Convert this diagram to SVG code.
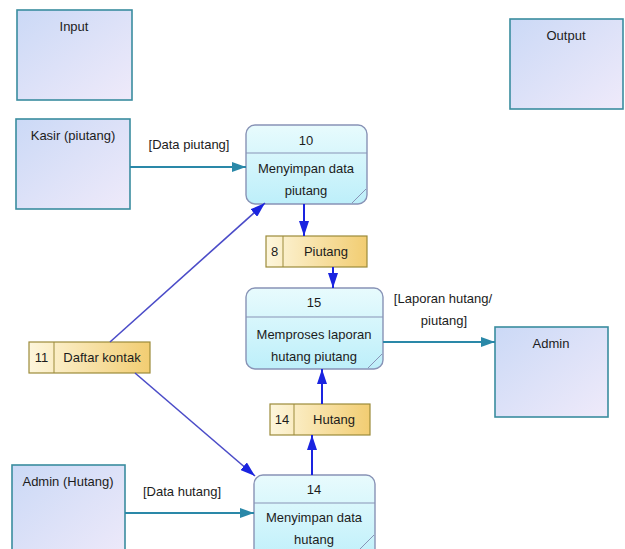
<svg xmlns="http://www.w3.org/2000/svg" width="625" height="549" viewBox="0 0 625 549">
  <defs>
    <linearGradient id="gEntity" x1="0" y1="0" x2="1" y2="1">
      <stop offset="0" stop-color="#cbd9f6"/>
      <stop offset="1" stop-color="#efeafa"/>
    </linearGradient>
    <linearGradient id="gProcess" x1="0" y1="0" x2="0" y2="1">
      <stop offset="0" stop-color="#e8fbfd"/>
      <stop offset="1" stop-color="#bdeffa"/>
    </linearGradient>
    <linearGradient id="gStore" x1="0" y1="0" x2="1" y2="0">
      <stop offset="0" stop-color="#fdf6dc"/>
      <stop offset="1" stop-color="#f2cd72"/>
    </linearGradient>
    <marker id="aTeal" viewBox="0 0 14 10" refX="14" refY="5" markerWidth="14" markerHeight="10" markerUnits="userSpaceOnUse" orient="auto">
      <path d="M0,0 L14,5 L0,10 Z" fill="#2a88a8"/>
    </marker>
    <marker id="aBlue" viewBox="0 0 15 10" refX="15" refY="5" markerWidth="15" markerHeight="10" markerUnits="userSpaceOnUse" orient="auto">
      <path d="M0,0 L15,5 L0,10 Z" fill="#1a24e0"/>
    </marker>
  </defs>
  <style>
    text { font-family: "Liberation Sans", Arial, sans-serif; font-size: 13px; fill: #1c1c1c; }
    .c { text-anchor: middle; }
    .entity { fill: url(#gEntity); stroke: #3a8d9f; stroke-width: 1.6; }
    .proc { fill: url(#gProcess); stroke: #8893b6; stroke-width: 1.4; }
    .div { stroke: #8893b6; stroke-width: 1; fill: none; }
    .store { fill: url(#gStore); stroke: #9c8b3a; stroke-width: 1.2; }
    .sdiv { stroke: #9c8b3a; stroke-width: 1; }
    .ext { stroke: #2a88a8; stroke-width: 2; fill: none; marker-end: url(#aTeal); }
    .int { stroke: #1a24e0; stroke-width: 2; fill: none; marker-end: url(#aBlue); }
    .link { stroke: #4b4cc8; stroke-width: 1.6; fill: none; marker-end: url(#aBlue); }
  </style>

  <rect width="625" height="549" fill="#ffffff"/>

  <!-- external entities -->
  <g id="input">
    <rect class="entity" x="17" y="10" width="115" height="90"/>
    <text class="c" x="74" y="31">Input</text>
  </g>
  <g id="output">
    <rect class="entity" x="510" y="19" width="113" height="90"/>
    <text class="c" x="566" y="40">Output</text>
  </g>
  <g id="kasir">
    <rect class="entity" x="16" y="119" width="114" height="90"/>
    <text class="c" x="73" y="140">Kasir (piutang)</text>
  </g>
  <g id="admin">
    <rect class="entity" x="495" y="327" width="113" height="90"/>
    <text class="c" x="551" y="348">Admin</text>
  </g>
  <g id="admin-hutang">
    <rect class="entity" x="12" y="465" width="113" height="100"/>
    <text class="c" x="68" y="486">Admin (Hutang)</text>
  </g>

  <!-- processes -->
  <g id="p10">
    <rect class="proc" x="246" y="125" width="121" height="79" rx="9"/>
    <line class="div" x1="246" y1="153" x2="367" y2="153"/>
    <line class="div" x1="352" y1="203" x2="366" y2="189"/>
    <text class="c" x="306" y="145">10</text>
    <text class="c" x="306" y="173">Menyimpan data</text>
    <text class="c" x="306" y="195">piutang</text>
  </g>
  <g id="p15">
    <rect class="proc" x="246" y="288" width="137" height="81" rx="9"/>
    <line class="div" x1="246" y1="317" x2="383" y2="317"/>
    <line class="div" x1="368" y1="368" x2="382" y2="354"/>
    <text class="c" x="314" y="307">15</text>
    <text class="c" x="314" y="339">Memproses laporan</text>
    <text class="c" x="314" y="361">hutang piutang</text>
  </g>
  <g id="p14">
    <rect class="proc" x="254" y="475" width="121" height="90" rx="9"/>
    <line class="div" x1="254" y1="503" x2="375" y2="503"/>
    <line class="div" x1="360" y1="549" x2="374" y2="535"/>
    <text class="c" x="314" y="494">14</text>
    <text class="c" x="314" y="522">Menyimpan data</text>
    <text class="c" x="314" y="544">hutang</text>
  </g>

  <!-- data stores -->
  <g id="s8">
    <rect class="store" x="266" y="236" width="101" height="31"/>
    <line class="sdiv" x1="283" y1="236" x2="283" y2="267"/>
    <text class="c" x="274.5" y="256">8</text>
    <text class="c" x="326" y="256">Piutang</text>
  </g>
  <g id="s14">
    <rect class="store" x="270" y="404" width="100" height="31"/>
    <line class="sdiv" x1="294" y1="404" x2="294" y2="435"/>
    <text class="c" x="282" y="424">14</text>
    <text class="c" x="334" y="424">Hutang</text>
  </g>
  <g id="s11">
    <rect class="store" x="29" y="342" width="121" height="31"/>
    <line class="sdiv" x1="54" y1="342" x2="54" y2="373"/>
    <text class="c" x="41.5" y="362">11</text>
    <text class="c" x="102" y="362">Daftar kontak</text>
  </g>

  <!-- connectors -->
  <g id="connectors">
    <line class="ext" x1="130" y1="167" x2="246" y2="167"/>
    <line class="ext" x1="383" y1="342" x2="495" y2="342"/>
    <line class="ext" x1="125" y1="513" x2="254" y2="513"/>
    <line class="int" x1="304" y1="204" x2="304" y2="236"/>
    <line class="int" x1="333" y1="267" x2="333" y2="288"/>
    <line class="int" x1="322" y1="404" x2="322" y2="369"/>
    <line class="int" x1="312" y1="475" x2="312" y2="435"/>
    <line class="link" x1="110" y1="342" x2="265" y2="203"/>
    <line class="link" x1="135" y1="373" x2="255" y2="476"/>
    <text class="c" x="189" y="149">[Data piutang]</text>
    <text class="c" x="443" y="303">[Laporan hutang/</text>
    <text class="c" x="444" y="325">piutang]</text>
    <text class="c" x="182" y="496">[Data hutang]</text>
  </g>
</svg>
